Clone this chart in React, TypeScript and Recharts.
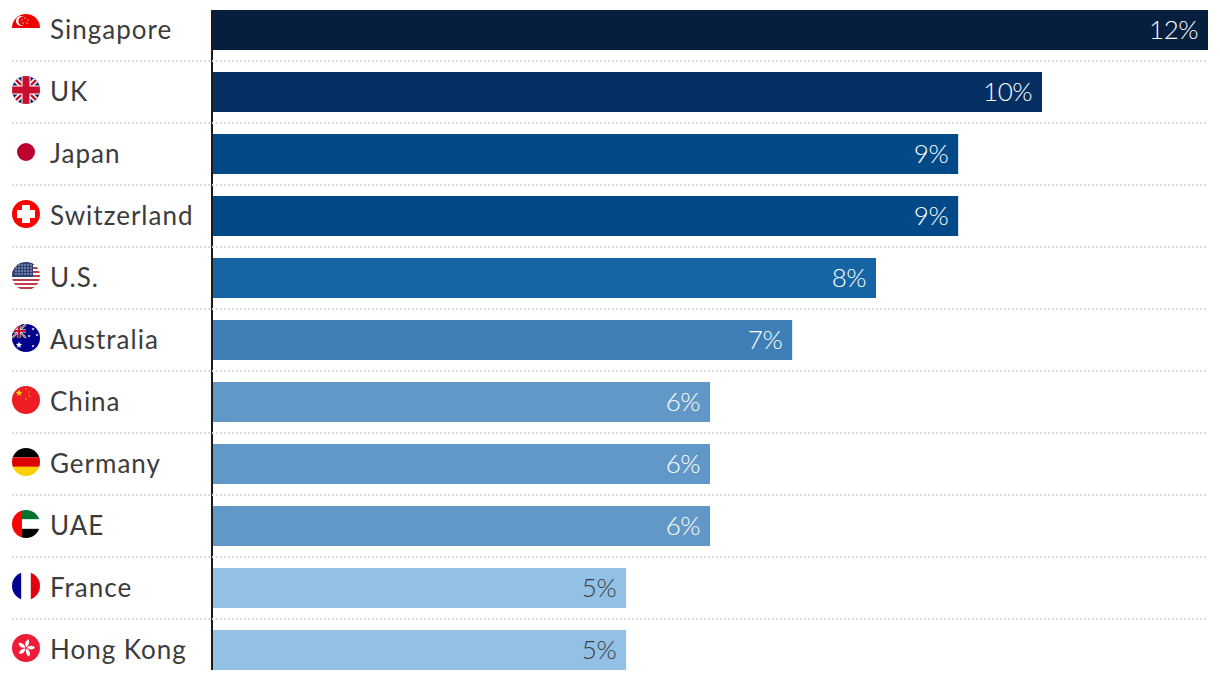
import { BarChart, Bar, XAxis, YAxis, Cell, LabelList } from 'recharts';

const countries = ['Singapore', 'UK', 'Japan', 'Switzerland', 'U.S.', 'Australia', 'China', 'Germany', 'UAE', 'France', 'Hong Kong'];
const shares = [12, 10, 8.99, 8.99, 8, 6.99, 6, 6, 6, 4.99, 4.99];
const barColors = ['#071f3f', '#052f63', '#024a87', '#024a87', '#1764a5', '#3e7fb7', '#6298c8', '#6298c8', '#6298c8', '#93c1e6', '#93c1e6'];
const labelColors = ['#fff', '#fff', '#fff', '#fff', '#fff', '#fff', '#fff', '#fff', '#fff', '#3c3c3c', '#3c3c3c'];

const chartData = countries.map((name, i) => ({ name, share: shares[i] }));

const FONT = 'Lato, "Open Sans", sans-serif';

function star(cx: number, cy: number, r: number) {
  const pts = [];
  for (let i = 0; i < 10; i++) {
    const rr = i % 2 ? r * 0.42 : r;
    const a = -Math.PI / 2 + (i * Math.PI) / 5;
    pts.push(`${(cx + rr * Math.cos(a)).toFixed(2)},${(cy + rr * Math.sin(a)).toFixed(2)}`);
  }
  return <polygon points={pts.join(' ')} fill="currentColor" />;
}

function jack(x0: number, y0: number, x1: number, y1: number, w: number) {
  const cx = (x0 + x1) / 2;
  const cy = (y0 + y1) / 2;
  return (
    <g>
      <rect x={x0} y={y0} width={x1 - x0} height={y1 - y0} fill="#012169" />
      <path d={`M${x0} ${y0}L${x1} ${y1}M${x1} ${y0}L${x0} ${y1}`} stroke="#fff" strokeWidth={w * 0.8} />
      <path d={`M${x0} ${y0}L${x1} ${y1}M${x1} ${y0}L${x0} ${y1}`} stroke="#c8102e" strokeWidth={w * 0.35} />
      <path d={`M${cx} ${y0}V${y1}M${x0} ${cy}H${x1}`} stroke="#fff" strokeWidth={w * 1.3} />
      <path d={`M${cx} ${y0}V${y1}M${x0} ${cy}H${x1}`} stroke="#c8102e" strokeWidth={w} />
    </g>
  );
}

// flags are drawn in a 28x28 box centred on 0,0
const flags: Record<string, React.ReactNode> = {
  Singapore: (
    <g>
      <rect x={-14} y={-14} width={28} height={14} fill="#ee0000" />
      <circle cx={-5} cy={-7} r={5} fill="#fff" />
      <circle cx={-3} cy={-7} r={4.6} fill="#ee0000" />
      <g color="#fff">{star(-1, -10, 1)}{star(2, -8, 1)}{star(1, -5, 1)}{star(-3, -5, 1)}{star(-4, -8, 1)}</g>
    </g>
  ),
  UK: jack(-14, -14, 14, 14, 7),
  Japan: <circle r={9} fill="#bc002d" />,
  Switzerland: (
    <g>
      <rect x={-14} y={-14} width={28} height={28} fill="#ff0000" />
      <path d="M-4 -9H4V-4H9V4H4V9H-4V4H-9V-4H-4Z" fill="#fff" />
    </g>
  ),
  'U.S.': (
    <g>
      <rect x={-14} y={-14} width={28} height={28} fill="#fff" />
      {[-12, -8, -4, 0, 4, 8, 12].map((sy) => (
        <rect key={sy} x={-14} y={sy - 1} width={28} height={2} fill="#bf3f4a" />
      ))}
      <rect x={-14} y={-14} width={21} height={15} fill="#2e3f74" />
      {[-11, -8, -5, -2].map((sy) =>
        [-10, -7, -4, -1, 2, 5].map((sx) => <circle key={`${sx}-${sy}`} cx={sx} cy={sy} r={0.7} fill="#e6e9f2" />)
      )}
    </g>
  ),
  Australia: (
    <g>
      <rect x={-14} y={-14} width={28} height={28} fill="#00008b" />
      {jack(-14, -14, 0, 0, 2.2)}
      <g color="#fff">{star(-7, 7, 3.4)}{star(7, -9, 1.6)}{star(11, -3, 1.6)}{star(3, -2, 1.6)}{star(7, 8, 1.6)}</g>
    </g>
  ),
  China: (
    <g>
      <rect x={-14} y={-14} width={28} height={28} fill="#ee1c25" />
      <g color="#ffde00">{star(-7, -7, 3.6)}{star(0, -11, 1)}{star(3, -8, 1)}{star(3, -4, 1)}{star(0, -1, 1)}</g>
    </g>
  ),
  Germany: (
    <g>
      <rect x={-14} y={-14} width={28} height={9.4} fill="#000" />
      <rect x={-14} y={-4.6} width={28} height={9.4} fill="#dd0000" />
      <rect x={-14} y={4.8} width={28} height={9.4} fill="#ffce00" />
    </g>
  ),
  UAE: (
    <g>
      <rect x={-14} y={-14} width={10} height={28} fill="#ff0000" />
      <rect x={-4} y={-14} width={18} height={9.4} fill="#00732f" />
      <rect x={-4} y={-4.6} width={18} height={9.4} fill="#fff" />
      <rect x={-4} y={4.8} width={18} height={9.4} fill="#000" />
    </g>
  ),
  France: (
    <g>
      <rect x={-14} y={-14} width={9.4} height={28} fill="#000091" />
      <rect x={-4.6} y={-14} width={9.4} height={28} fill="#fff" />
      <rect x={4.8} y={-14} width={9.4} height={28} fill="#e1000f" />
    </g>
  ),
  'Hong Kong': (
    <g>
      <rect x={-14} y={-14} width={28} height={28} fill="#ee1c38" />
      {[20, 92, 164, 236, 308].map((a) => (
        <path key={a} transform={`rotate(${a})`} d="M0 -0.8C-3 -3 -3.2 -6.5 -0.6 -9C1.6 -7 1.8 -3.5 0 -0.8Z" fill="#fff" />
      ))}
    </g>
  ),
};

function CountryTick({ y, payload, index }: any) {
  const name = payload.value as string;
  const row = countries.indexOf(name);
  return (
    <g>
      {row < countries.length - 1 && (
        <line x1={12} x2={1208} y1={y + 31} y2={y + 31} stroke="#dcdcdc" strokeWidth={2} strokeDasharray="2 2" />
      )}
      <clipPath id={`flag-${index}`}>
        <circle cx={26} cy={y - 2} r={14} />
      </clipPath>
      <g clipPath={`url(#flag-${index})`}>
        <g transform={`translate(26 ${y - 2})`}>{flags[name]}</g>
      </g>
      <text x={50} y={y + 9} fontFamily={FONT} fontSize={26} letterSpacing={1} fill="#3c3c3c">
        {name}
      </text>
    </g>
  );
}

function ShareLabel({ x, y, width, height, value, index }: any) {
  return (
    <text
      x={x + width - 10}
      y={y + height / 2 + 8.5}
      textAnchor="end"
      fontFamily={FONT}
      fontWeight={300}
      fontSize={26}
      letterSpacing={-0.5}
      fill={labelColors[index]}
    >
      {Math.round(value)}%
    </text>
  );
}

export default function App() {
  return (
    <div style={{ position: 'absolute', left: 0, top: 0, width: 1220, height: 680, overflow: 'hidden', background: '#fff' }}>
      <BarChart
        width={1220}
        height={680}
        data={chartData}
        layout="vertical"
        barSize={40}
        margin={{ top: 10, right: 12, bottom: 10, left: 0 }}
      >
        <XAxis type="number" domain={[0, 12]} hide />
        <YAxis
          type="category"
          dataKey="name"
          width={212}
          interval={0}
          tickLine={false}
          axisLine={{ stroke: '#1a1a1a', strokeWidth: 2 }}
          padding={{ top: -11, bottom: -11 }}
          tick={<CountryTick />}
        />
        <Bar dataKey="share" isAnimationActive={false}>
          {chartData.map((entry, index) => (
            <Cell key={entry.name} fill={barColors[index]} />
          ))}
          <LabelList dataKey="share" content={<ShareLabel />} />
        </Bar>
      </BarChart>
    </div>
  );
}
